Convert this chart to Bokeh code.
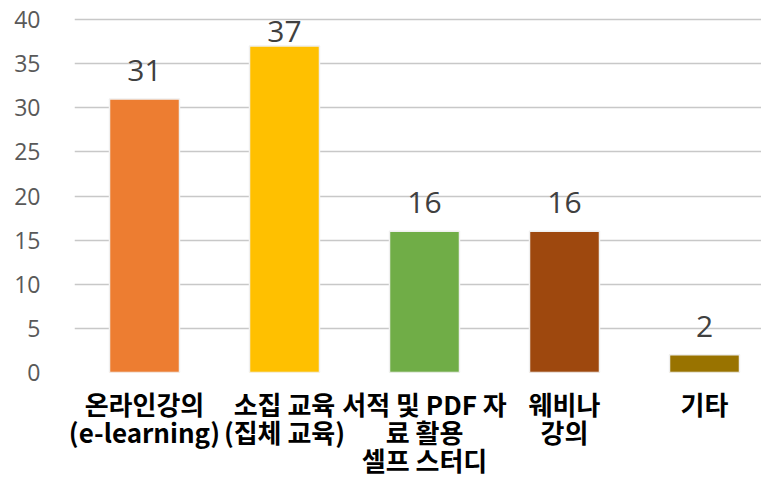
from bokeh.plotting import figure
from bokeh.models import Range1d, FixedTicker, ColumnDataSource
from bokeh.embed import file_html
from bokeh.resources import INLINE
from bokeh.core.properties import value

categories = ["온라인강의\n(e-learning)", "소집 교육\n(집체 교육)", "서적 및 PDF 자\n료 활용\n셀프 스터디", "웨비나\n강의", "기타"]
values = [31, 37, 16, 16, 2]
colors = ["#ED7D31", "#FFC000", "#70AD47", "#9E480E", "#997300"]
y_ticks = [0, 5, 10, 15, 20, 25, 30, 35, 40]

W, H = 761, 480
left, bottom = 74, 108
frame_h = H - bottom
frame_w = W - left
px_per_cat = 140.0
px_per_unit = 8.825
y_end = frame_h / px_per_unit

x = [i + 0.5 for i in range(len(categories))]
# label offsets: normally 18px above bar, but kept inside the top of the chart
offsets = []
for v in values:
    bar_top_px = frame_h - v * px_per_unit
    off = 18
    text_top = bar_top_px - off - 30
    if text_top < 14:
        off = max(4, bar_top_px - 30 - 14)
    offsets.append(-off)

src = ColumnDataSource(dict(x=x, top=values, color=colors,
                            label=[str(v) for v in values], yoff=offsets))

p = figure(width=W, height=H, output_backend="svg", toolbar_location=None,
           x_range=Range1d(0, frame_w / px_per_cat), y_range=Range1d(0, y_end),
           min_border_left=left, min_border_bottom=bottom, min_border_top=0,
           min_border_right=0)
p.outline_line_color = None
p.background_fill_color = "white"
p.border_fill_color = "white"

p.vbar(x="x", top="top", bottom=0, width=0.5, fill_color="color",
       line_color="#f0f0f0", line_width=1.5, source=src)
p.text(x="x", y="top", text="label", y_offset="yoff", source=src,
       text_align="center", text_baseline="bottom", text_font_size="30px",
       text_color="#404040", text_font=value("Open Sans"))

p.yaxis.ticker = FixedTicker(ticks=y_ticks)
p.xaxis.ticker = FixedTicker(ticks=x)
p.xaxis.major_label_overrides = {xx: c for xx, c in zip(x, categories)}
p.xgrid.grid_line_color = None
p.ygrid.grid_line_color = "#c8c8c8"
p.ygrid.grid_line_width = 1.3

for ax in (p.xaxis, p.yaxis):
    ax.axis_line_color = None
    ax.major_tick_line_color = None
    ax.minor_tick_line_color = None

p.yaxis.major_label_text_font = "Open Sans"
p.yaxis.major_label_text_font_size = "23px"
p.yaxis.major_label_text_color = "#595959"
p.yaxis.major_label_standoff = 28

p.xaxis.major_label_text_font = "Noto Sans CJK KR"
p.xaxis.major_label_text_font_style = "bold"
p.xaxis.major_label_text_font_size = "26px"
p.xaxis.major_label_text_line_height = 0.76
p.xaxis.major_label_text_color = "#000000"
p.xaxis.major_label_standoff = 6

open("out.html", "w").write(file_html(p, INLINE))
